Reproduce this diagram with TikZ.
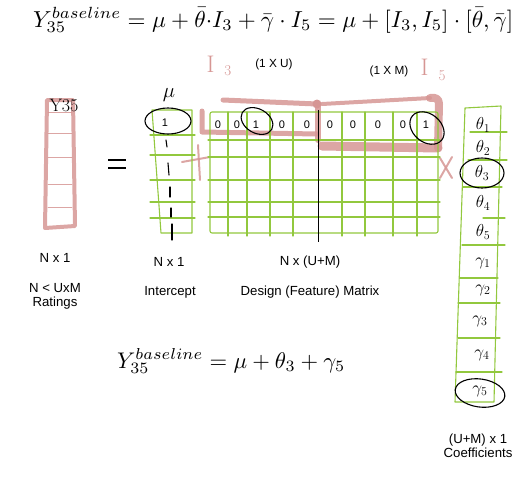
\documentclass[tikz,border=0pt]{standalone}
\usepackage{graphicx}
\usepackage{fontspec}
\setsansfont{Liberation Sans}
\definecolor{lgreen}{RGB}{146,200,62}
\definecolor{lpink}{RGB}{214,150,148}
\begin{document}
\begin{tikzpicture}[x=1pt,y=-1pt,
  lbl/.style={font=\sffamily\fontsize{13.2}{15}\selectfont, inner sep=0},
  lbls/.style={font=\sffamily\fontsize{11.8}{13}\selectfont, inner sep=0},
  grn/.style={draw=lgreen, line width=1.1pt, line cap=round, line join=round},
  pnk/.style={draw=lpink, line cap=round, line join=round, opacity=0.85},
  ink/.style={draw=black, line width=1.1pt, line cap=round},
  hand/.style={font=\fontsize{18}{20}\selectfont, inner sep=0},
  cell/.style={font=\sffamily\fontsize{11}{12}\selectfont, inner sep=0},
  pinkhand/.style={text=lpink, inner sep=0}]
\useasboundingbox (0,0) rectangle (518,493);

% ---------- equations ----------
\node[anchor=base west, inner sep=0] (eqtop) at (33,27)
  {\resizebox{480pt}{!}{$Y^{baseline}_{35} = \mu + \bar{\theta}{\cdot} I_3 + \bar{\gamma}\cdot I_5 = \mu + [I_3, I_5]\cdot[\bar{\theta},\bar{\gamma}]$}};
\node[anchor=base west, inner sep=0] (eqbot) at (117,368)
  {\resizebox{228pt}{!}{$Y^{baseline}_{35} = \mu + \theta_3 + \gamma_5$}};

% ---------- pink rating vector ----------
\draw[pnk, line width=4pt] (47,100) -- (73,100) -- (75,226) -- (45,228) -- cycle;
\foreach \yy in {112,133,157,184,207}
  \draw[pnk, line width=0.9pt] (48,\yy) -- (72,\yy);
\node[hand] (y35) at (64,105) {Y35};

% equals sign
\draw[line width=2.6pt] (108,160) -- (126,160);
\draw[line width=2.6pt] (108,168) -- (126,168);

% ---------- pink highlight of row ----------
\draw[pnk, line width=5pt] (202,111) -- (202,132) -- (317,134);
\draw[pnk, line width=5pt] (223,100) -- (317,104);
\draw[pnk, line width=6pt] (318,104) -- (318,140);
\draw[pnk, line width=9pt] (322,146) -- (438,148);
\draw[pnk, line width=8pt] (438,148) -- (439,104) .. controls (439,99) and (436,97) .. (430,98);
\draw[pnk, line width=4pt] (430,98) -- (322,104);
\fill[lpink] (317,104) circle (4.5);
% pink plus and times
\draw[pnk, line width=2pt] (182,162) -- (210,157);
\draw[pnk, line width=2pt] (198,145) -- (200,180);
\draw[pnk, line width=2pt] (440,158) -- (452,178);
\draw[pnk, line width=2pt] (452,157) -- (440,178);
% pink handwriting
\node[pinkhand] (i3) at (219,66) {\fontsize{24}{24}\selectfont I\hspace{10pt}\raisebox{-3pt}{\fontsize{15}{15}\selectfont 3}};
\node[pinkhand] (i5) at (433,70) {\fontsize{24}{24}\selectfont I\hspace{10pt}\raisebox{-5pt}{\fontsize{15}{15}\selectfont 5}};

% ---------- intercept column ----------
\draw[grn] (152,110) -- (192,110) -- (192,233) -- (161,233) -- cycle;
\foreach \yy in {135,155,180,202,218}
  \draw[grn] (150,\yy) -- (195,\yy);
\node[font=\fontsize{20}{22}\selectfont, inner sep=0] (mu) at (169,95) {$\mu$};
\node[cell] (c0) at (165,123) {1};
\draw[ink] (168,121) ellipse [x radius=23, y radius=13];
\draw[ink] (166,140) -- (167,147);
\draw[ink] (168,163) -- (169,175);
\draw[ink] (170,187) -- (170,197);
\draw[ink] (171,208) -- (171,217);
\draw[ink] (172,224) -- (172,240);

% ---------- design matrix ----------
\draw[grn, rounded corners=2pt] (210,112) rectangle (438,233);
\foreach \xx in {228,247,270,293,342,365,393,417}
  \draw[grn] (\xx,112) -- (\xx,236);
\foreach \yy in {140,157,180,202,217}
  \draw[grn] (208,\yy) -- (440,\yy);
\draw[line width=1pt] (318,110) -- (318,242);
\node[cell] (m1) at (218,125) {0};
\node[cell] (m2) at (237,125) {0};
\node[cell] (m3) at (256,125) {1};
\node[cell] (m4) at (282,125) {0};
\node[cell] (m5) at (307,125) {0};
\node[cell] (m6) at (330,125) {0};
\node[cell] (m7) at (353,125) {0};
\node[cell] (m8) at (378,125) {0};
\node[cell] (m9) at (403,125) {0};
\node[cell] (m10) at (426,125) {1};
\draw[ink, rotate around={-30:(257,121)}] (257,121) ellipse [x radius=17, y radius=12];
\draw[ink, rotate around={-40:(427,128)}] (427,128) ellipse [x radius=19, y radius=14];

% ---------- coefficient column ----------
\draw[grn] (465,108) -- (501,106) -- (494,402) -- (455,402) -- cycle;
\foreach \yy/\xa/\xb in {132/470/507, 160/468/507, 187/463/502, 218/483/505, 245/462/505, 278/460/498, 303/458/500, 338/458/500, 372/456/502}
  \draw[grn] (\xa,\yy) -- (\xb,\yy);
\node[hand] (t1) at (483,125) {$\theta_1$};
\node[hand] (t2) at (483,148) {$\theta_2$};
\node[hand] (t3) at (482,173) {$\theta_3$};
\node[hand] (t4) at (483,203) {$\theta_4$};
\node[hand] (t5) at (483,232) {$\theta_5$};
\node[hand] (g1) at (483,263) {$\gamma_1$};
\node[hand] (g2) at (483,290) {$\gamma_2$};
\node[hand] (g3) at (480,321) {$\gamma_3$};
\node[hand] (g4) at (482,355) {$\gamma_4$};
\node[hand] (g5) at (480,391) {$\gamma_5$};
\draw[ink] (482,173) ellipse [x radius=22, y radius=15];
\draw[ink, rotate around={-8:(480,393)}] (480,393) ellipse [x radius=25, y radius=14];

% ---------- labels ----------
\node[lbls] (l1u) at (274,64) {(1 X U)};
\node[lbls] (l1m) at (389,71) {(1 X M)};
\node[lbl] (lnx1a) at (55,258) {N x 1};
\node[lbl] (lnum) at (55,288) {N < UxM};
\node[lbl] (lrat) at (55,303) {Ratings};
\node[lbl] (lnx1b) at (169,262) {N x 1};
\node[lbl] (lint) at (170,292) {Intercept};
\node[lbl] (lnum2) at (310,262) {N x (U+M)};
\node[lbl] (ldes) at (310,292) {Design (Feature) Matrix};
\node[lbl] (lum) at (478,440) {(U+M) x 1};
\node[lbl] (lcoef) at (478,453) {Coefficients};
\end{tikzpicture}
\end{document}
